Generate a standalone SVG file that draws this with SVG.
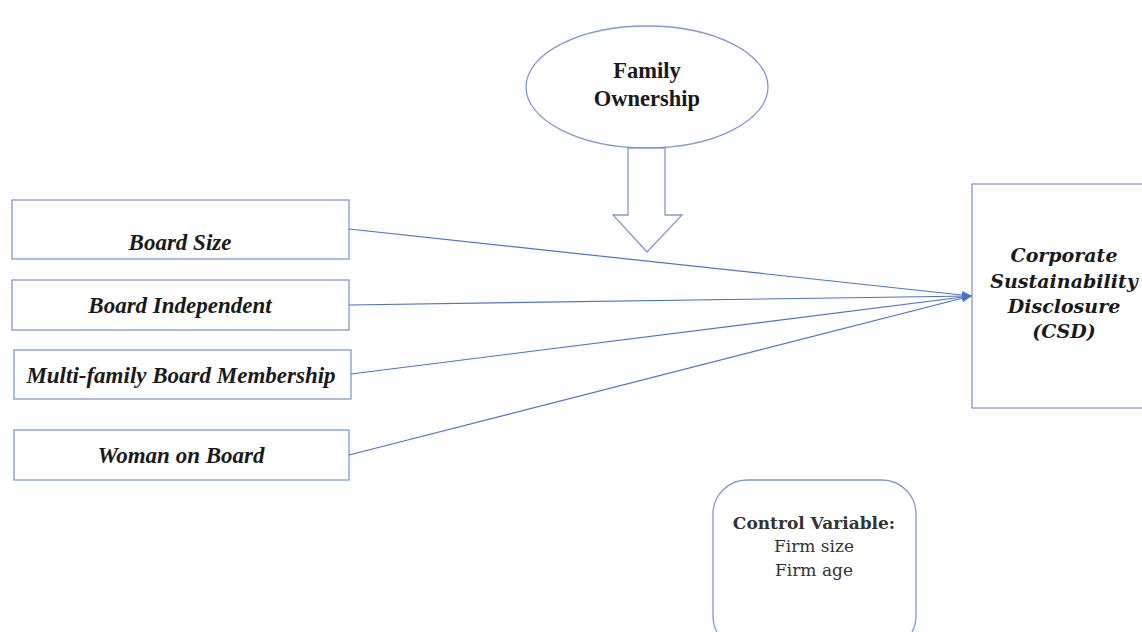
<svg xmlns="http://www.w3.org/2000/svg" width="1142" height="632" viewBox="0 0 1142 632">
<style>
.box{fill:#fff;stroke:#7f9bd3;stroke-width:1.3}
.lbl{font-family:"Liberation Serif",serif;font-weight:bold;font-style:italic;font-size:23px;fill:#1a1a1a;text-anchor:middle}
.csd{font-family:"DejaVu Serif","Liberation Serif",serif;font-weight:bold;font-style:italic;font-size:19px;fill:#1a1a1a;text-anchor:middle}
.fam{font-family:"Liberation Serif",serif;font-weight:bold;font-size:22.5px;fill:#1a1a1a;text-anchor:middle}
.ctl{font-family:"DejaVu Serif","Liberation Serif",serif;font-size:17px;fill:#333;text-anchor:middle}
.conn{stroke:#4a74cc;stroke-width:1.2;fill:none}
</style>
<defs>
<marker id="ah" markerWidth="10" markerHeight="8" refX="9" refY="4" orient="auto" markerUnits="userSpaceOnUse">
<path d="M0,0 L10,4 L0,8 Z" fill="#4a74cc"/>
</marker>
</defs>
<rect width="1142" height="632" fill="#fff"/>
<g id="family-ownership">
<ellipse class="box" cx="647" cy="87" rx="121" ry="61"/>
<text class="fam" x="647" y="78">Family</text>
<text class="fam" x="647" y="106">Ownership</text>
</g>
<g id="moderation-arrow">
<path class="box" d="M628,148 L665,148 L665,215 L682,215 L647,252 L613,215 L628,215 Z"/>
</g>
<g id="board-size">
<rect class="box" x="12" y="200" width="337" height="59"/>
<text class="lbl" x="180" y="250">Board Size</text>
</g>
<g id="board-independent">
<rect class="box" x="12" y="280" width="337" height="50"/>
<text class="lbl" x="180" y="313">Board Independent</text>
</g>
<g id="multi-family">
<rect class="box" x="14" y="350" width="337" height="49"/>
<text class="lbl" x="181" y="383">Multi-family Board Membership</text>
</g>
<g id="woman-on-board">
<rect class="box" x="14" y="430" width="335" height="50"/>
<text class="lbl" x="181" y="463">Woman on Board</text>
</g>
<g id="csd">
<rect class="box" x="972" y="184" width="180" height="224"/>
<text class="csd" x="1064" y="262">Corporate</text>
<text class="csd" x="1064" y="288">Sustainability</text>
<text class="csd" x="1064" y="313">Disclosure</text>
<text class="csd" x="1064" y="338">(CSD)</text>
</g>
<g id="control-variable">
<rect class="box" x="713" y="480" width="203" height="170" rx="34" ry="34"/>
<text class="ctl" x="814" y="529" font-weight="bold" fill="#1a1a1a">Control Variable:</text>
<text class="ctl" x="814" y="552">Firm size</text>
<text class="ctl" x="814" y="576">Firm age</text>
</g>
<g id="connectors">
<line class="conn" x1="349" y1="229" x2="971" y2="296" marker-end="url(#ah)"/>
<line class="conn" x1="349" y1="305" x2="971" y2="296" marker-end="url(#ah)"/>
<line class="conn" x1="351" y1="374" x2="971" y2="296" marker-end="url(#ah)"/>
<line class="conn" x1="349" y1="455" x2="971" y2="296" marker-end="url(#ah)"/>
</g>
</svg>
